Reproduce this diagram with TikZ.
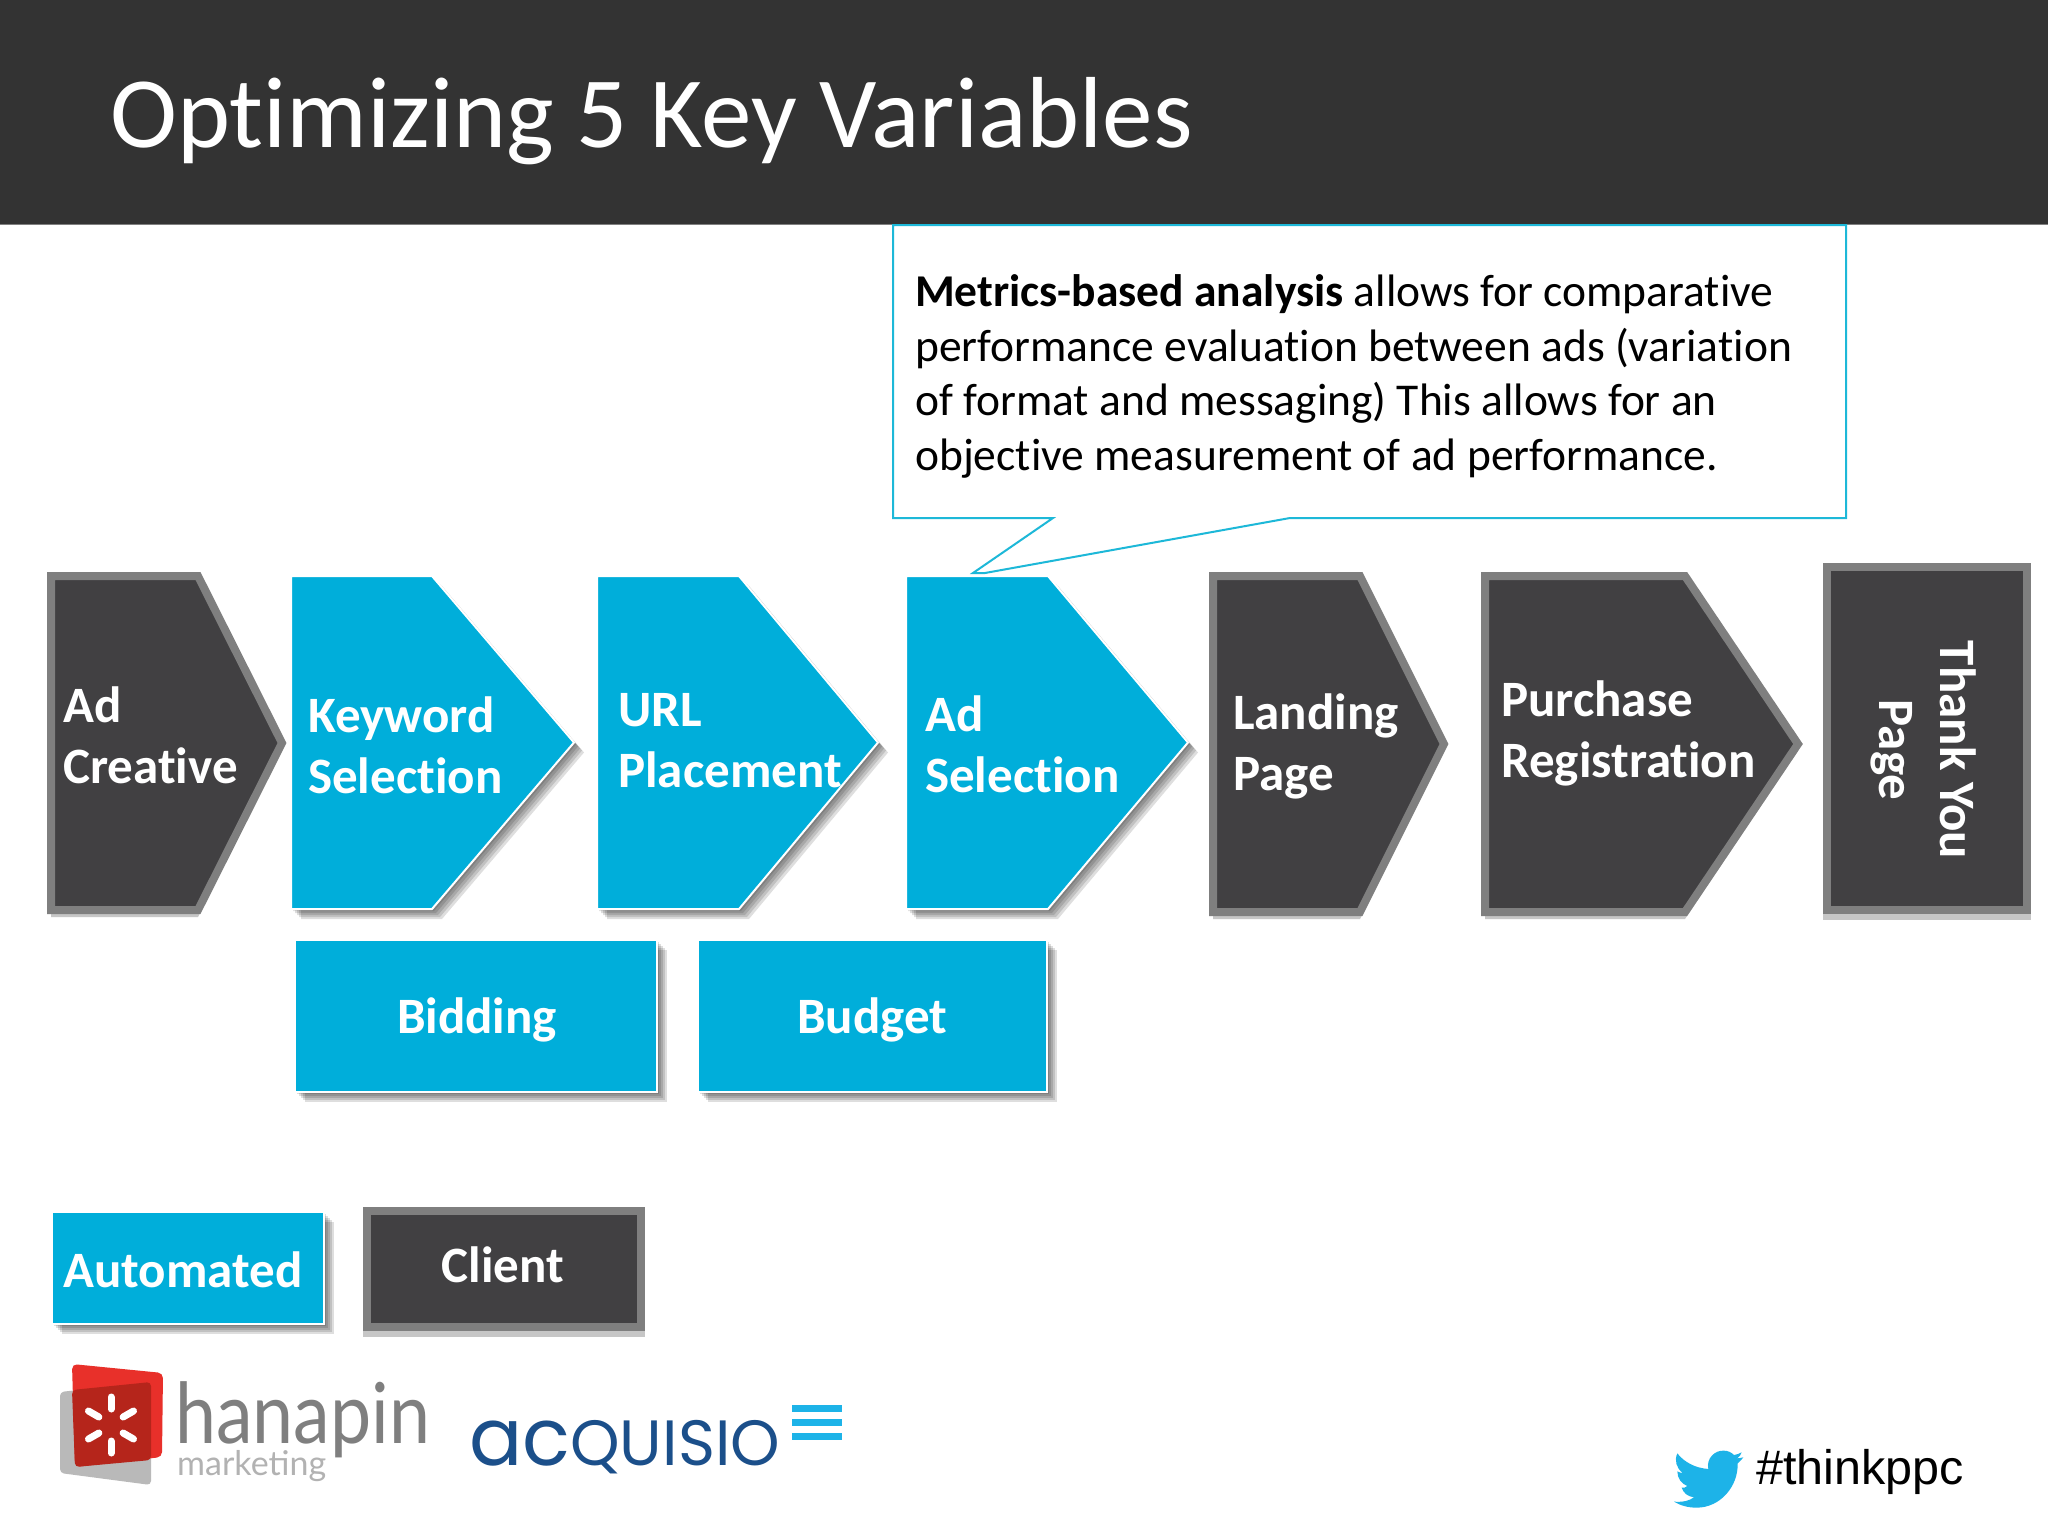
\documentclass[tikz,border=0pt]{standalone}
\usepackage{fontspec}
\setmainfont{Carlito}[Ligatures=CommonOff]
\newfontfamily\arialfont{Liberation Sans}
\newfontfamily\latofont{Lato}
\newfontfamily\poppinsfont{Poppins}
\definecolor{headgray}{HTML}{333333}
\definecolor{shapeblue}{HTML}{00AEDA}
\definecolor{shapedark}{HTML}{414042}
\definecolor{edgegray}{HTML}{7F7F7F}
\definecolor{calloutblue}{HTML}{1DB8D8}
\definecolor{logoblue}{HTML}{1B4F8A}
\definecolor{birdblue}{HTML}{1DB3E8}
\definecolor{logored}{HTML}{E8302A}
\definecolor{logodeep}{HTML}{B5251B}
\tikzset{
 autoshape/.style={fill=shapeblue,draw=white,line width=2pt,line join=miter},
 clientshape/.style={fill=shapedark,draw=edgegray,line width=8pt,line join=miter},
 softshadow/.style={fill=black,opacity=.13},
 underlay/.style={fill=gray!45},
 boxlabel/.style={font=\fontsize{51}{61}\selectfont\bfseries,text=white,inner sep=0pt,align=left},
}
\newcommand{\chevpath}[5]{(#1,#4)--(#2,#4)--(#3,{(#4+#5)/2})--(#2,#5)--(#1,#5)--cycle}
\newcommand{\autochev}[5]{
 \foreach \s in {2,4,6,8,10}{\fill[softshadow,xshift=\s pt,yshift=-\s pt]\chevpath{#1}{#2}{#3}{#4}{#5};}
 \draw[autoshape]\chevpath{#1}{#2}{#3}{#4}{#5};}
\newcommand{\clientchev}[5]{
 \fill[underlay,yshift=-7pt]\chevpath{#1}{#2}{#3}{#4}{#5};
 \draw[clientshape]\chevpath{#1}{#2}{#3}{#4}{#5};}
\newcommand{\autobox}[4]{
 \foreach \s in {2,4,6,8,10}{\fill[softshadow,xshift=\s pt,yshift=-\s pt](#1,#2)rectangle(#3,#4);}
 \draw[autoshape](#1,#2)rectangle(#3,#4);}
\begin{document}
\begin{tikzpicture}[x=1pt,y=-1pt]
\useasboundingbox (0,0) rectangle (2048,1536);
\fill[white](0,0) rectangle (2048,1536);
\fill[headgray](0,0) rectangle (2048,224);
\draw[gray,line width=1.5pt](0,224.5)--(2048,224.5);
\node[anchor=base west,inner sep=0pt,text=white,font=\fontsize{101}{120}\selectfont] (title) at (110,148) {Optimizing 5 Key Variables};
\draw[calloutblue,line width=2pt,fill=white](893,225)--(1846,225)--(1846,518)--(1290,518)--(985,573)--(973,573)--(1053,518)--(893,518)--cycle;
\node[anchor=north west,inner sep=0pt,align=left,font=\fontsize{45.5}{54.6}\selectfont] (metrics) at (915,274.5) {\textbf{Metrics-based analysis} allows for comparative\\performance evaluation between ads (variation\\of format and messaging) This allows for an\\objective measurement of ad performance.};
\clientchev{51}{198}{282}{576}{910}
\autochev{291}{432}{574}{576}{909}
\autochev{597}{739}{878}{576}{909}
\autochev{906}{1048}{1188}{576}{909}
\clientchev{1213}{1360}{1444}{576}{912}
\clientchev{1485}{1685}{1798}{576}{912}
\fill[underlay](1823,905) rectangle (2031,920);
\draw[clientshape](1827,567) rectangle (2027,910);
\node[boxlabel,anchor=west] (creative) at (63,735) {Ad\\Creative};
\node[boxlabel,anchor=west] (keyword) at (308,745) {Keyword\\Selection};
\node[boxlabel,anchor=west] (url) at (618,741) {URL\\Placement};
\node[boxlabel,anchor=west] (adsel) at (925,744) {Ad\\Selection};
\node[boxlabel,anchor=west] (landing) at (1233,746) {Landing\\Page};
\node[boxlabel,anchor=west] (purchase) at (1501,733) {Purchase\\Registration};
\node[boxlabel,align=center,rotate=-90] (thanks) at (1924,750) {Thank You\\Page};
\autobox{295}{940}{657}{1092}
\autobox{698}{940}{1047}{1092}
\node[boxlabel,anchor=base] (bidding) at (477,1033) {Bidding};
\node[boxlabel,anchor=base] (budget) at (872,1033) {Budget};
\autobox{52}{1212}{324}{1324}
\fill[underlay](363,1320) rectangle (645,1337);
\draw[clientshape](367,1211) rectangle (641,1327);
\node[boxlabel,anchor=base] (automated) at (183,1287) {Automated};
\node[boxlabel,anchor=base] (client) at (503,1282) {Client};
\fill[gray!55,rounded corners=4pt](60,1392)--(151,1382)--(151,1485)--(60,1473)--cycle;
\fill[logored,rounded corners=5pt](72,1364)--(163,1373)--(162,1457)--(75,1467)--cycle;
\fill[logodeep,rounded corners=4pt](72,1390)--(151,1382)--(151,1460)--(75,1467)--cycle;
\foreach \a in {30,90,150,210,270,330}
 \draw[white,line width=7pt,line cap=round](111,1425)++(\a:14 and 16)--++(\a:12 and 12);
\node[anchor=base west,inner sep=0pt,text=edgegray,xscale=.875,font=\fontsize{84}{90}\latofont] (hanapin) at (175,1443) {hanapin};
\node[anchor=base west,inner sep=0pt,text=gray!60,font=\fontsize{34}{40}\latofont] (marketing) at (177,1475) {marketing};
\node[anchor=base west,inner sep=0pt,text=logoblue,xscale=.985,font=\fontsize{64}{70}\poppinsfont] (acquisio) at (469,1465) {{\fontsize{80}{90}\selectfont ac}QUISIO};
\foreach \y in {1405,1419,1433}
 \fill[birdblue](792,\y) rectangle (842,\y+7);
\begin{scope}[shift={(1600,1400)},x=.3333pt,y=-.3333pt]
\fill[birdblue](222,305) .. controls (250,307) and (268,302) .. (282,292) .. controls (265,290) and (250,280) .. (245,263) .. controls (250,264) and (256,264) .. (262,258) .. controls (245,252) and (232,235) .. (232,214) .. controls (237,217) and (243,219) .. (248,219) .. controls (230,205) and (222,182) .. (232,160) .. controls (252,186) and (285,204) .. (325,207) .. controls (318,175) and (345,150) .. (372,152) .. controls (385,152) and (395,158) .. (402,165) .. controls (410,164) and (418,161) .. (425,157) .. controls (422,165) and (418,171) .. (412,175) .. controls (418,175) and (424,173) .. (430,172) .. controls (425,179) and (419,185) .. (413,190) .. controls (415,260) and (360,323) .. (290,323) .. controls (263,323) and (240,316) .. (222,305) -- cycle;
\end{scope}
\node[anchor=base west,inner sep=0pt,font=\fontsize{48.5}{55}\arialfont] (hashtag) at (1756,1484) {\#thinkppc};
\end{tikzpicture}
\end{document}
